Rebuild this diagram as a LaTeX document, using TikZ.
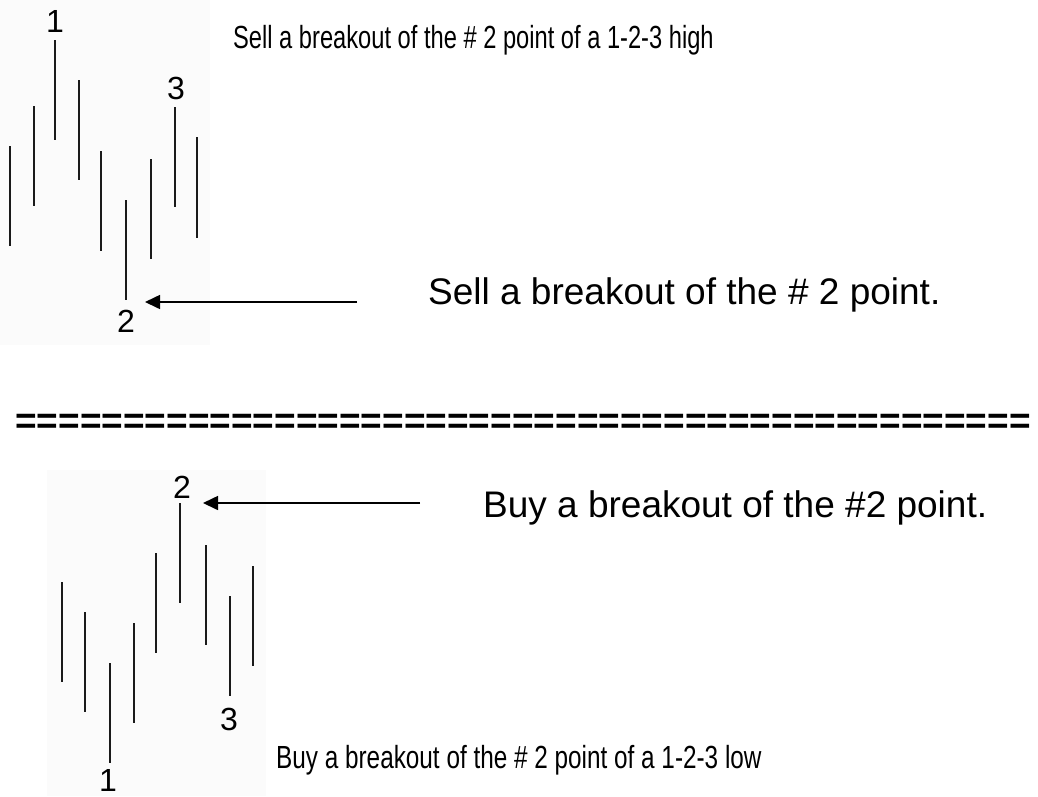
\documentclass[tikz,border=0pt]{standalone}
\usepackage{fontspec}
\setmainfont{Liberation Sans}
\usetikzlibrary{arrows.meta}
\definecolor{ChartBg}{HTML}{FBFBFB}
\definecolor{BarInk}{HTML}{1A1A1A}

\begin{document}
\begin{tikzpicture}[x=1pt,y=-1pt,
    bar/.style={line width=1.3pt,BarInk},
    digit/.style={inner sep=0pt,font=\fontsize{32}{32}\selectfont},
    caption/.style={anchor=base west,inner sep=0pt,font=\fontsize{37}{37}\selectfont},
    pointer/.style={-{Triangle[length=15pt,width=14pt]},line width=1.6pt}]
  \useasboundingbox (0,0) rectangle (1038,796);

  % 1-2-3 high
  \fill[ChartBg] (0,0) rectangle (210,345);
  \foreach \x/\t/\b in {10/146/246,34/106/206,55/40/140,79/80/180,101/151/251,
                        126/200/300,151/159/259,175/107/207,197/137/238}
    \draw[bar] (\x,\t)--(\x,\b);
  \node[digit] (hiOne) at (55,21) {1};
  \node[digit] (hiThree) at (176,88) {3};
  \node[digit] (hiTwo) at (126,321) {2};
  \node[caption] (hiTitle) at (233,48)
    {\scalebox{0.74}[1]{\fontsize{32}{32}\selectfont Sell a breakout of the \# 2 point of a 1-2-3 high}};

  % sell arrow
  \coordinate (sellTail) at (357,302);
  \coordinate (sellTip) at (145,302);
  \draw[pointer] (sellTail)--(sellTip);
  \node[caption] (sellNote) at (428,304) {Sell a breakout of the \# 2 point.};

  % divider
  \node[caption,font=\fontsize{37}{37}\selectfont\bfseries] (divider) at (15,433)
    {===============================================};

  % 1-2-3 low
  \fill[ChartBg] (47,470) rectangle (266,796);
  \foreach \x/\t/\b in {62/582/682,85/612/712,110/663/763,134/623/723,156/553/653,
                        180/503/603,206/545/645,230/596/696,253/566/666}
    \draw[bar] (\x,\t)--(\x,\b);
  \node[digit] (loTwo) at (182,487) {2};
  \node[digit] (loThree) at (229,719) {3};
  \node[digit] (loOne) at (108,780) {1};

  % buy arrow
  \coordinate (buyTail) at (420,503);
  \coordinate (buyTip) at (203,503);
  \draw[pointer] (buyTail)--(buyTip);
  \node[caption] (buyNote) at (483,517) {Buy a breakout of the \#2 point.};

  \node[caption] (loTitle) at (276,768)
    {\scalebox{0.76}[1]{\fontsize{32}{32}\selectfont Buy a breakout of the \# 2 point of a 1-2-3 low}};
\end{tikzpicture}
\end{document}
